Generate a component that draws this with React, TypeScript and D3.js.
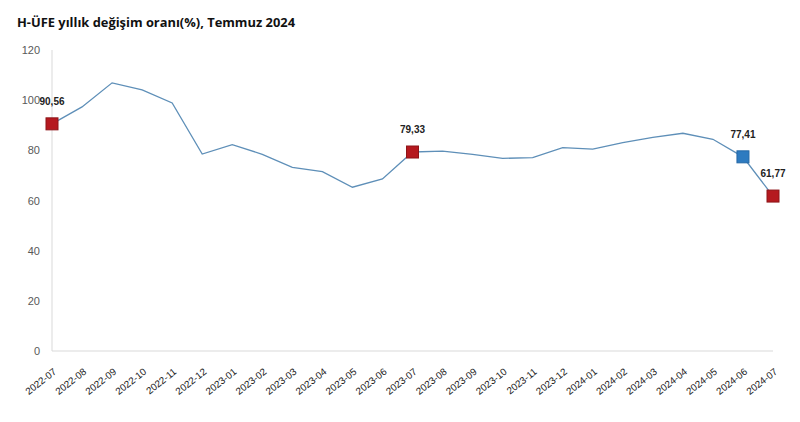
import React from "react";
import * as d3 from "d3";

const months = [
  "2022-07","2022-08","2022-09","2022-10","2022-11","2022-12",
  "2023-01","2023-02","2023-03","2023-04","2023-05","2023-06",
  "2023-07","2023-08","2023-09","2023-10","2023-11","2023-12",
  "2024-01","2024-02","2024-03","2024-04","2024-05","2024-06","2024-07",
];
const values = [
  90.56, 97.3, 106.9, 104.1, 98.9, 78.5,
  82.3, 78.4, 73.2, 71.5, 65.3, 68.6,
  79.33, 79.7, 78.4, 76.8, 77.1, 81.1,
  80.5, 83.1, 85.2, 86.8, 84.4, 77.41, 61.77,
];
const yTicks = [0, 20, 40, 60, 80, 100, 120];
const highlighted = [
  { month: "2022-07", value: 90.56, label: "90,56", kind: "red" },
  { month: "2023-07", value: 79.33, label: "79,33", kind: "red" },
  { month: "2024-06", value: 77.41, label: "77,41", kind: "blue" },
  { month: "2024-07", value: 61.77, label: "61,77", kind: "red" },
];
const title = "H-ÜFE yıllık değişim oranı(%), Temmuz 2024";

export default function App() {
  const W = 800, H = 422;
  const x = d3.scalePoint<string>().domain(months).range([52, 773]);
  const y = d3.scaleLinear().domain([0, 120]).range([351, 50]);
  const line = d3.line<number>().x((_, i) => x(months[i])!).y((d) => y(d));
  const fill = { red: "#B5191F", blue: "#2E7BC0" } as Record<string, string>;
  const stroke = { red: "#8E1418", blue: "#2468A6" } as Record<string, string>;
  return (
    <svg width={W} height={H} style={{ position: "absolute", left: 0, top: 0, background: "#fff" }}>
      <text x={17} y={27} fontFamily="Open Sans" fontWeight="bold" fontSize={12.6} fill="#111" textLength={278} lengthAdjust="spacingAndGlyphs">{title}</text>
      <line x1={52} x2={52} y1={50} y2={351} stroke="#D9D9D9" strokeWidth={1} />
      <line x1={52} x2={773} y1={351} y2={351} stroke="#D9D9D9" strokeWidth={1} />
      {yTicks.map((t) => (
        <text key={t} x={40} y={y(t) + 4} textAnchor="end" fontFamily="Liberation Sans, Arial" fontSize={11} fill="#595959">{t}</text>
      ))}
      {months.map((m) => (
        <text key={m} transform={`translate(${x(m)! + 5},${373}) rotate(-38)`} textAnchor="end" fontFamily="Liberation Sans, Arial" fontSize={9.8} fill="#222">{m}</text>
      ))}
      <path d={line(values)!} fill="none" stroke="#5E8FB8" strokeWidth={1.3} />
      {highlighted.map((h) => (
        <g key={h.month}>
          <rect x={x(h.month)! - 6} y={y(h.value) - 6} width={12} height={12} fill={fill[h.kind]} stroke={stroke[h.kind]} strokeWidth={1} />
          <text x={x(h.month)!} y={y(h.value) - 19} textAnchor="middle" fontFamily="Liberation Sans, Arial" fontWeight="bold" fontSize={10} fill="#222">{h.label}</text>
        </g>
      ))}
    </svg>
  );
}
